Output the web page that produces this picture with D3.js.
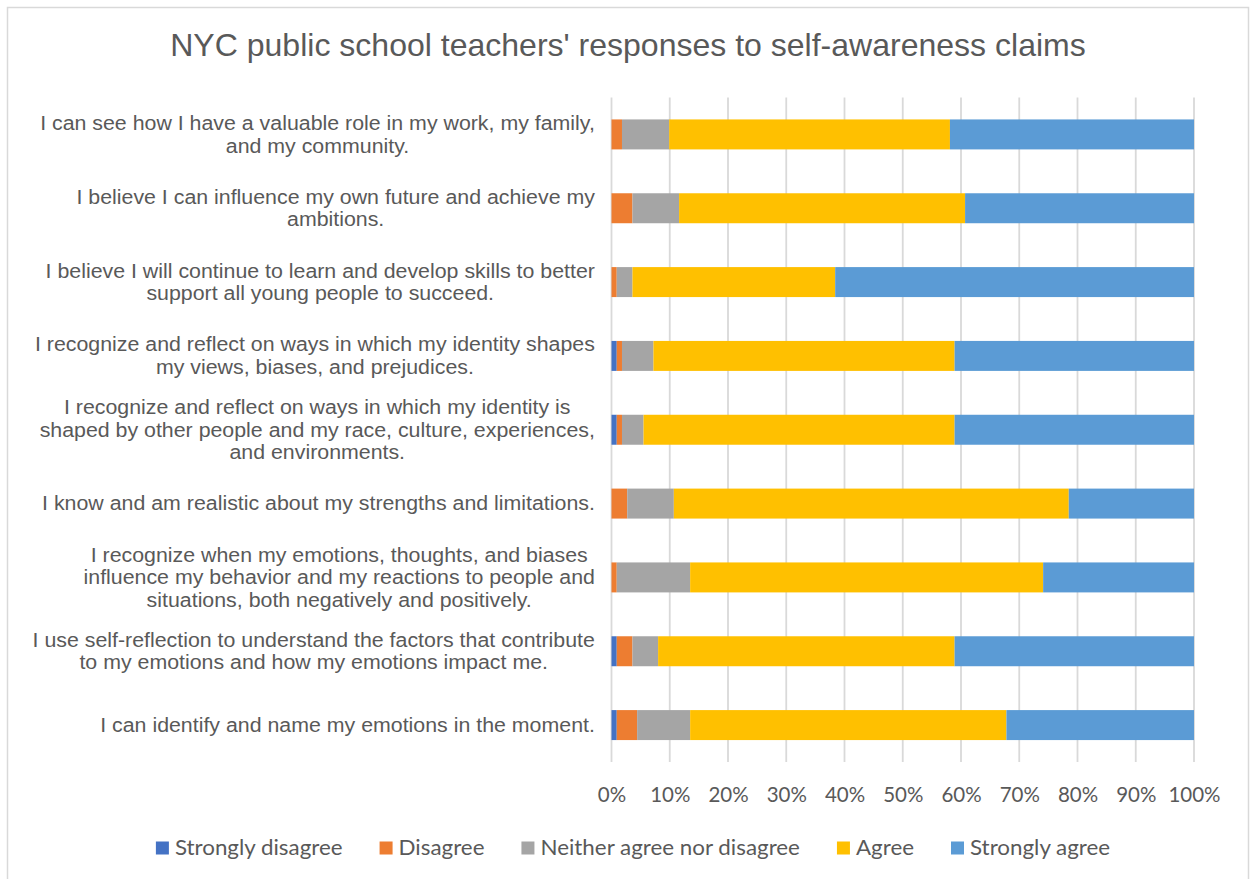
<!DOCTYPE html>
<html>
<head>
<meta charset="utf-8">
<script src="https://cdn.jsdelivr.net/npm/d3@7"></script>
<style>
  html, body { margin: 0; padding: 0; background: #fff; }
  svg { display: block; }
</style>
</head>
<body>
<svg id="chart" width="1254" height="879"></svg>
<script>
// Survey statements (line breaks mark where each label wraps)
const categories = [
  "I can see how I have a valuable role in my work, my family,\nand my community.",
  "I believe I can influence my own future and achieve my\nambitions.",
  "I believe I will continue to learn and develop skills to better\nsupport all young people to succeed.",
  "I recognize and reflect on ways in which my identity shapes\nmy views, biases, and prejudices.",
  "I recognize and reflect on ways in which my identity is\nshaped by other people and my race, culture, experiences,\nand environments.",
  "I know and am realistic about my strengths and limitations.",
  "I recognize when my emotions, thoughts, and biases\ninfluence my behavior and my reactions to people and\nsituations, both negatively and positively.",
  "I use self-reflection to understand the factors that contribute\nto my emotions and how my emotions impact me.",
  "I can identify and name my emotions in the moment."
];

const seriesNames = ["Strongly disagree", "Disagree", "Neither agree nor disagree", "Agree", "Strongly agree"];

// Percent of respondents per statement, one array per response option
const stronglyDisagree = [0.0, 0.0, 0.0, 0.9, 0.9, 0.0, 0.0, 0.9, 0.9];
const disagree         = [1.8, 3.6, 0.9, 0.9, 0.9, 2.7, 0.9, 2.7, 3.5];
const neither          = [8.1, 8.0, 2.7, 5.4, 3.7, 8.0, 12.6, 4.4, 9.1];
const agree            = [48.2, 49.1, 34.8, 51.7, 53.4, 67.8, 60.6, 50.9, 54.3];
const stronglyAgree    = [41.9, 39.3, 61.6, 41.1, 41.1, 21.5, 25.9, 41.1, 32.2];

const tickValues = [0, 10, 20, 30, 40, 50, 60, 70, 80, 90, 100];
const colors = ["#4472C4", "#ED7D31", "#A5A5A5", "#FFC000", "#5B9BD5"];

const seriesValues = [stronglyDisagree, disagree, neither, agree, stronglyAgree];
const rows = categories.map((c, i) => {
  const r = { category: c };
  seriesNames.forEach((s, k) => { r[s] = seriesValues[k][i]; });
  return r;
});

const svg = d3.select("#chart");

// Outer chart frame
svg.append("rect")
  .attr("x", 7.5).attr("y", 7.5)
  .attr("width", 1241).attr("height", 900)
  .attr("fill", "#fff")
  .attr("stroke", "#d9d9d9").attr("stroke-width", 1.5);

const plot = { left: 611.5, right: 1194, top: 97.5, bottom: 762 };

const x = d3.scaleLinear().domain([0, 100]).range([plot.left, plot.right]);
const y = d3.scaleBand().domain(categories).range([plot.top, plot.bottom]).paddingInner(0.594).paddingOuter(0.297);

const sansFont = "Liberation Sans, Arial, sans-serif";
const uiFont = "Lato, 'Open Sans', sans-serif";

// Title (slightly widened face)
svg.append("g")
  .attr("transform", "translate(628,56) scale(1.05,1)")
  .append("text")
  .attr("text-anchor", "middle")
  .attr("font-family", sansFont)
  .attr("font-size", 30.5)
  .attr("fill", "#595959")
  .text("NYC public school teachers' responses to self-awareness claims");

// Vertical gridlines
svg.append("g")
  .selectAll("line")
  .data(tickValues)
  .join("line")
  .attr("x1", d => x(d)).attr("x2", d => x(d))
  .attr("y1", plot.top).attr("y2", plot.bottom)
  .attr("stroke", "#d9d9d9").attr("stroke-width", 1.8);

// Stacked bars
const stack = d3.stack().keys(seriesNames)(rows);
svg.append("g")
  .selectAll("g")
  .data(stack)
  .join("g")
  .attr("fill", (d, i) => colors[i])
  .selectAll("rect")
  .data(d => d)
  .join("rect")
  .attr("x", d => x(d[0]))
  .attr("y", d => y(d.data.category))
  .attr("width", d => Math.max(0, x(d[1]) - x(d[0])))
  .attr("height", y.bandwidth());

// Bottom axis labels
const xAxis = d3.axisBottom(x)
  .tickValues(tickValues)
  .tickFormat(d => d + "%")
  .tickSize(0)
  .tickPadding(0);
const gx = svg.append("g")
  .attr("transform", `translate(0,${plot.bottom + 25})`)
  .call(xAxis);
gx.select(".domain").remove();
gx.selectAll("text")
  .attr("font-family", uiFont)
  .attr("font-size", 20.5)
  .attr("fill", "#595959");

// Category labels: each block's widest line ends at the label edge, lines centred within the block
const labelEdge = 595;
const labelScaleX = 1.095;
const lineH = 22.6;
const labelG = svg.append("g");
categories.forEach(c => {
  const lines = c.split("\n");
  const g = labelG.append("g");
  const t = g.append("text")
    .attr("font-family", sansFont)
    .attr("font-size", 19.5)
    .attr("fill", "#595959")
    .attr("text-anchor", "middle");
  const cy = y(c) + y.bandwidth() / 2;
  const first = cy - (lines.length - 1) * lineH / 2;
  lines.forEach((ln, i) => {
    t.append("tspan").attr("x", 0).attr("y", first + i * lineH).attr("dy", "0.35em").text(ln);
  });
  let maxW = 0;
  t.selectAll("tspan").each(function () { maxW = Math.max(maxW, this.getComputedTextLength()); });
  g.attr("transform", `translate(${labelEdge - maxW * labelScaleX / 2},0) scale(${labelScaleX},1)`);
});

// Legend
const legendY = 848;
const legendScaleX = 1.065;
const legend = svg.append("g");
const items = legend.selectAll("g").data(seriesNames).join("g");
items.append("rect")
  .attr("width", 13).attr("height", 13)
  .attr("y", legendY - 6.5)
  .attr("fill", (d, i) => colors[i]);
items.append("g")
  .attr("transform", `translate(19,0) scale(${legendScaleX},1)`)
  .append("text")
  .attr("y", legendY).attr("dy", "0.35em")
  .attr("font-family", uiFont)
  .attr("font-size", 21)
  .attr("fill", "#595959")
  .text(d => d);
const widths = [];
items.each(function () {
  const tw = d3.select(this).select("text").node().getComputedTextLength();
  widths.push(19 + tw * legendScaleX);
});
const gap = 37;
const total = d3.sum(widths) + gap * (widths.length - 1);
let cx = 633 - total / 2;
items.attr("transform", (d, i) => {
  const tx = cx;
  cx += widths[i] + gap;
  return `translate(${tx},0)`;
});
</script>
</body>
</html>
